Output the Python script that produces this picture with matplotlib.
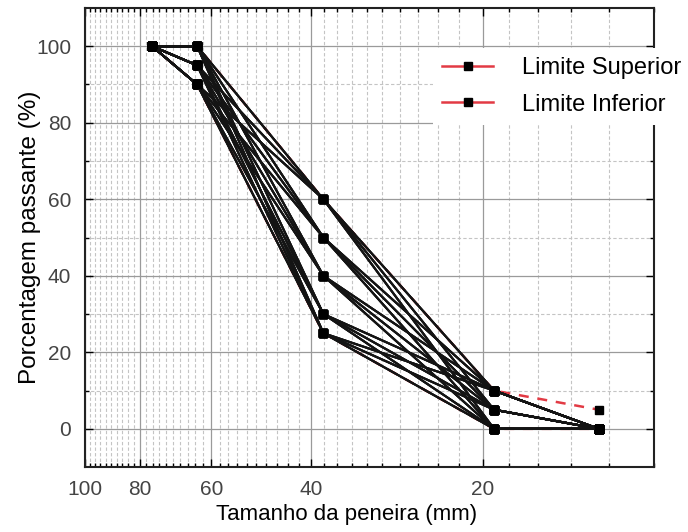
import itertools
import matplotlib
matplotlib.use("Agg")
import matplotlib.pyplot as plt
from matplotlib.lines import Line2D
from matplotlib.ticker import FixedLocator, NullFormatter, FixedFormatter

plt.rcParams['font.family'] = ['Liberation Sans', 'DejaVu Sans']

# Sieve sizes (mm)
sieves = [76.2, 63.5, 38.1, 19.1, 12.5]

# Observed passing values at each sieve for the family of black curves
start_vals = [100]
vals_63 = [100, 95, 90]
vals_38 = [60, 50, 40, 30, 25]
vals_19 = [10, 5, 0]
end_from_19 = {10: 0, 5: 0, 0: 0}

# Limits
upper_limit = [100, 100, 60, 10, 5]
lower_limit = [100, 90, 25, 0, 0]
legend_labels = ['Limite Superior', 'Limite Inferior']

x_major = [100, 80, 60, 40, 20]
x_major_labels = ["100", "80", "60", "40", "20"]
x_minor = [v for v in range(10, 100, 2) if v not in x_major]
y_major = [0, 20, 40, 60, 80, 100]
y_minor = [10, 30, 50, 70, 90]

fig = plt.figure(figsize=(6.88, 5.32), dpi=100)
ax = fig.add_axes([0.1235, 0.122, 0.827, 0.863])

red = '#e23a44'
black = '#141414'
dash = (0, (4, 3.5))

# limit curves (underneath)
ax.plot(sieves, upper_limit, color=red, lw=1.8, ls=dash, zorder=2,
        marker='s', ms=5.5, mfc='black', mec='black')
ax.plot(sieves, lower_limit, color=red, lw=1.8, ls=dash, zorder=2,
        marker='s', ms=5.5, mfc='black', mec='black')

# family of black curves
for a, b, c in itertools.product(vals_63, vals_38, vals_19):
    ys = [start_vals[0], a, b, c, end_from_19[c]]
    ax.plot(sieves, ys, color=black, lw=1.5, zorder=3,
            marker='s', ms=5.5, mfc='black', mec='black')

ax.set_xscale('log')
ax.set_xlim(100, 10)
ax.set_ylim(-10, 110)

ax.xaxis.set_major_locator(FixedLocator(x_major))
ax.xaxis.set_major_formatter(FixedFormatter(x_major_labels))
ax.xaxis.set_minor_locator(FixedLocator(x_minor))
ax.xaxis.set_minor_formatter(NullFormatter())
ax.yaxis.set_major_locator(FixedLocator(y_major))
ax.yaxis.set_minor_locator(FixedLocator(y_minor))

ax.tick_params(which='both', direction='in', top=True, right=True,
               labelsize=15, labelcolor='#444444', width=1.0)
ax.tick_params(which='major', length=6)
ax.tick_params(which='minor', length=3)
ax.tick_params(axis='x', which='major', pad=9)
ax.tick_params(axis='y', which='major', pad=10)

ax.grid(which='major', color='#9a9a9a', lw=0.9, ls='-', zorder=0)
ax.grid(which='minor', color='#c4c4c4', lw=0.8, ls=(0, (3, 2)), zorder=0)
ax.set_axisbelow(True)

for s in ax.spines.values():
    s.set_linewidth(1.5)
    s.set_color('#222222')

ax.set_xlabel('Tamanho da peneira (mm)', fontsize=16)
ax.set_ylabel('Porcentagem passante (%)', fontsize=17.5)
ax.xaxis.set_label_coords(0.46, -0.08)
ax.yaxis.set_label_coords(-0.077, 0.5)

handles = [Line2D([], [], color=red, lw=1.8, marker='s', ms=5.5,
                  mfc='black', mec='black') for _ in legend_labels]
leg = ax.legend(handles, legend_labels, loc='upper left',
                bbox_to_anchor=(433 / 688, 1 - 48 / 532),
                bbox_transform=fig.transFigure, fontsize=17, numpoints=1,
                handlelength=2.15, handletextpad=1.2, labelspacing=0.6,
                borderaxespad=0, frameon=True, fancybox=False)
leg.get_frame().set_facecolor('white')
leg.get_frame().set_edgecolor('none')
leg.get_frame().set_alpha(1)
leg.set_zorder(10)

fig.savefig('out.png', dpi=100)
